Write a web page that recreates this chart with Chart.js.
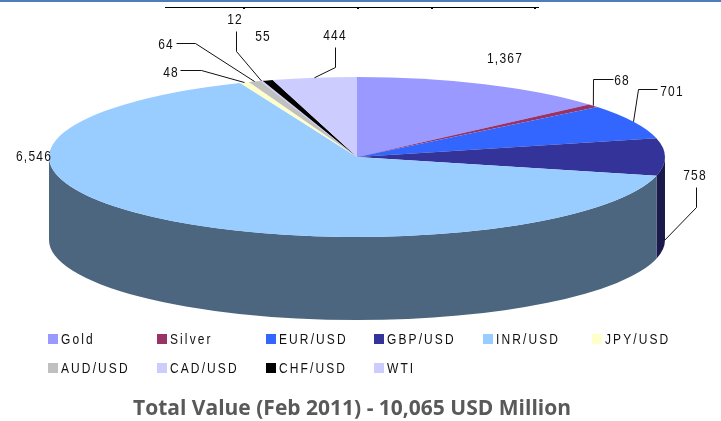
<!DOCTYPE html>
<html>
<head>
<meta charset="utf-8">
<title>Total Value (Feb 2011)</title>
<script src="https://cdn.jsdelivr.net/npm/chart.js@4"></script>
<style>
  html, body { margin: 0; padding: 0; background: #fff; }
  canvas { display: block; }
</style>
</head>
<body>
<canvas id="ch-pie" width="721" height="421"></canvas>
<script>
// ── Datos ────────────────────────────────────────────────────────────────
const categories = ['Gold', 'Silver', 'EUR/USD', 'GBP/USD', 'INR/USD', 'JPY/USD', 'AUD/USD', 'CAD/USD', 'CHF/USD', 'WTI'];
const values     = [1367, 68, 701, 758, 6546, 48, 64, 12, 55, 444];
const sliceColors = ['#9999FF', '#993366', '#3366FF', '#333399', '#99CCFF', '#FFFFCC', '#C0C0C0', '#CCCCFF', '#000000', '#CCCCFF'];
const titleText  = 'Total Value (Feb 2011) - 10,065 USD Million';

// ── Geometria del "3D" ───────────────────────────────────────────────────
const PIE = { cx: 357, cy: 157, rx: 308, ry: 80, depth: 83 };

// Posicion de cada etiqueta: texto (x centro, y centro) y codo de la guia.
// wall: la guia toca la base de la pared.
const labelLayout = [
    { x: 505, y: 59 },
    { x: 622, y: 81, elbow: [[613, 79], [593, 79]] },
    { x: 672, y: 92, elbow: [[657, 89], [638, 89]] },
    { x: 695, y: 176, elbow: [[696, 187], [696, 207]], wall: true },
    { x: 34,  y: 157 },
    { x: 171, y: 73, elbow: [[180, 70], [201, 70]] },
    { x: 166, y: 45, elbow: [[176, 43], [195, 43]] },
    { x: 235, y: 20, elbow: [[236, 31], [236, 51]] },
    { x: 263, y: 37 },
    { x: 335, y: 36, elbow: [[335, 47], [335, 67]] },
];

// Celdas de la leyenda
const legendCols = [48, 157, 266, 374, 483, 592];
const legendRows = [334, 363];

function darken(hex) {
    const n = parseInt(hex.slice(1), 16);
    const c = [n >> 16, (n >> 8) & 255, n & 255].map(v => Math.round(v * 0.5));
    return `rgb(${c[0]},${c[1]},${c[2]})`;
}

// El texto del original esta estirado en vertical
function tallText(ctx, text, x, y) {
    ctx.save();
    ctx.translate(x, y);
    ctx.scale(1, 1.25);
    ctx.fillText(text, 0, 0);
    ctx.restore();
}

// ── Franja superior recortada del original ───────────────────────────────
const topStrip = {
    id: 'topStrip',
    beforeDraw(chart) {
        const ctx = chart.ctx;
        ctx.save();
        ctx.fillStyle = '#4F7CBB';
        ctx.fillRect(0, 0, 721, 2);
        ctx.fillStyle = '#000';
        ctx.fillRect(165, 7, 374, 1);
        [243, 357, 431, 534].forEach(x => ctx.fillRect(x, 8, 2, 1));
        ctx.restore();
    },
};

// ── Pie aplanado con pared frontal ───────────────────────────────────────
const pie3d = {
    id: 'pie3d',
    beforeDatasetsDraw(chart) {
        const ctx = chart.ctx;
        const arcs = chart.getDatasetMeta(0).data;
        const { cx, cy, rx, ry, depth } = PIE;
        // pared: solo la mitad frontal del pie (0..PI en angulo de canvas)
        arcs.forEach((arc, i) => {
            const a0 = Math.max(arc.startAngle, 0);
            const a1 = Math.min(arc.endAngle, Math.PI);
            if (a1 <= a0) return;
            ctx.beginPath();
            ctx.ellipse(cx, cy, rx, ry, 0, a0, a1);
            ctx.ellipse(cx, cy + depth, rx, ry, 0, a1, a0, true);
            ctx.closePath();
            ctx.fillStyle = darken(sliceColors[i]);
            ctx.fill();
        });
        const R = arcs[0].outerRadius;
        ctx.save();
        ctx.translate(cx, cy);
        ctx.scale(rx / R, ry / R);
        ctx.translate(-arcs[0].x, -arcs[0].y);
    },
    afterDatasetsDraw(chart) {
        chart.ctx.restore();
        drawLabels(chart);
        drawLegend(chart);
    },
};

function drawLabels(chart) {
    const ctx = chart.ctx;
    const arcs = chart.getDatasetMeta(0).data;
    const { cx, cy, rx, ry, depth } = PIE;
    ctx.save();
    ctx.strokeStyle = '#111';
    ctx.lineWidth = 1;
    ctx.fillStyle = '#111';
    ctx.font = '12px "Liberation Sans"';
    ctx.letterSpacing = '1.2px';
    ctx.textAlign = 'center';
    ctx.textBaseline = 'middle';
    arcs.forEach((arc, i) => {
        const l = labelLayout[i];
        if (l.elbow) {
            const mid = (arc.startAngle + arc.endAngle) / 2;
            const ax = cx + rx * Math.cos(mid);
            const ay = cy + ry * Math.sin(mid) + (l.wall ? depth : 0);
            ctx.beginPath();
            ctx.moveTo(l.elbow[0][0] + 0.5, l.elbow[0][1] + 0.5);
            ctx.lineTo(l.elbow[1][0] + 0.5, l.elbow[1][1] + 0.5);
            ctx.lineTo(ax, ay);
            ctx.stroke();
        }
        tallText(ctx, values[i].toLocaleString('en-US'), l.x, l.y);
    });
    ctx.restore();
}

function drawLegend(chart) {
    const ctx = chart.ctx;
    ctx.save();
    ctx.font = '12px "Liberation Sans"';
    ctx.letterSpacing = '2.1px';
    ctx.textAlign = 'left';
    ctx.textBaseline = 'middle';
    categories.forEach((name, i) => {
        const x = legendCols[i % legendCols.length];
        const y = legendRows[Math.floor(i / legendCols.length)];
        ctx.fillStyle = sliceColors[i];
        ctx.fillRect(x, y, 10, 10);
        ctx.fillStyle = '#111';
        tallText(ctx, name, x + 13, y + 5.5);
    });
    ctx.restore();
}

// ── Grafico ──────────────────────────────────────────────────────────────
const ctx = document.getElementById('ch-pie').getContext('2d');
new Chart(ctx, {
    type: 'pie',
    data: {
        labels: categories,
        datasets: [{
            data: values,
            backgroundColor: sliceColors,
            borderWidth: 0,
        }],
    },
    options: {
        responsive: false,
        animation: false,
        layout: { padding: { right: 17 } },
        plugins: {
            legend: { display: false },
            tooltip: { enabled: false },
            title: {
                display: true,
                text: titleText,
                position: 'bottom',
                color: '#595959',
                font: { family: 'Open Sans', size: 21, weight: 'bold' },
                padding: { top: 2, bottom: -1 },
            },
        },
    },
    plugins: [topStrip, pie3d],
});
</script>
</body>
</html>
